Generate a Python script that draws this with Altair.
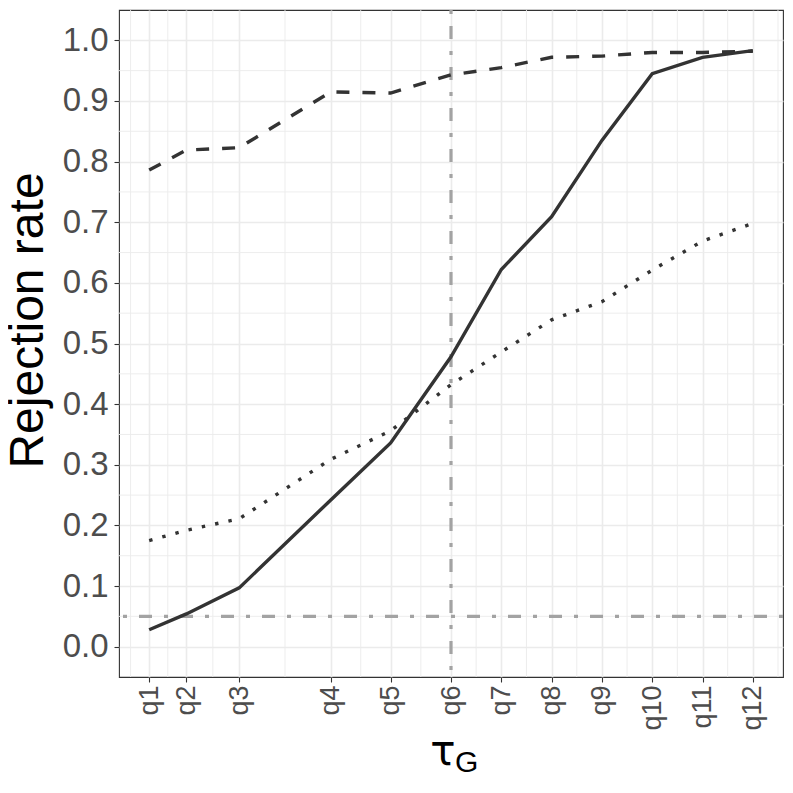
import altair as alt
import pandas as pd

# ---- data ----
labels = ["q1", "q2", "q3", "q4", "q5", "q6", "q7", "q8", "q9", "q10", "q11", "q12"]
xpos = [0, 0.74, 1.79, 3.61, 4.8, 6, 7, 8, 9, 10, 11, 12]
solid = [0.028, 0.054, 0.097, 0.242, 0.336, 0.478, 0.622, 0.709, 0.835, 0.945, 0.972, 0.983]
dashed = [0.786, 0.819, 0.823, 0.915, 0.913, 0.943, 0.955, 0.972, 0.974, 0.980, 0.980, 0.982]
dotted = [0.175, 0.192, 0.211, 0.309, 0.356, 0.432, 0.486, 0.539, 0.569, 0.621, 0.669, 0.698]
yticks = [round(0.1 * i, 1) for i in range(11)]
hline_y = 0.05
vline_x = 6  # q6

# minor grid positions (midpoints between major breaks)
xminor = [xpos[0] - (xpos[1] - xpos[0]) / 2] + \
         [(a + b) / 2 for a, b in zip(xpos[:-1], xpos[1:])] + \
         [xpos[-1] + (xpos[-1] - xpos[-2]) / 2]
yminor = [round(0.05 + 0.1 * i, 2) for i in range(10)]

XDOM = [-0.6, 12.6]
YDOM = [-0.05, 1.05]
W, H = 664, 667

labels_js = "[" + ",".join("'%s'" % l for l in labels) + "]"
xs_js = "[" + ",".join(str(v) for v in xpos) + "]"

xscale = alt.Scale(domain=XDOM, nice=False, zero=False)
yscale = alt.Scale(domain=YDOM, nice=False, zero=False)

xaxis = alt.Axis(values=xpos, labelExpr=f"{labels_js}[indexof({xs_js}, datum.value)]",
                 labelAngle=-90, labelAlign="right", labelBaseline="middle",
                 labelFontSize=27, labelColor="#4d4d4d", labelFont="Liberation Sans",
                 labelPadding=3, tickSize=5, tickColor="#333333", tickWidth=1.1,
                 domain=False, grid=True, gridColor="#ebebeb", gridWidth=1.6,
                 title=None)
yaxis = alt.Axis(values=yticks, format=".1f",
                 labelFontSize=33, labelColor="#4d4d4d", labelFont="Liberation Sans",
                 labelPadding=6, tickSize=5, tickColor="#333333", tickWidth=1.1,
                 domain=False, grid=True, gridColor="#ebebeb", gridWidth=1.6,
                 title="Rejection rate", titleFontSize=48, titleFont="Liberation Sans",
                 titleFontWeight="normal", titleColor="#000000",
                 titleAngle=-90, titleX=-77, titleY=310, titleAlign="center",
                 titleBaseline="alphabetic")

minor_x = alt.Chart(pd.DataFrame({"x": xminor})).mark_rule(color="#ebebeb", strokeWidth=0.9).encode(
    x=alt.X("x:Q", scale=xscale, axis=xaxis))
minor_y = alt.Chart(pd.DataFrame({"y": yminor})).mark_rule(color="#ebebeb", strokeWidth=0.9).encode(
    y=alt.Y("y:Q", scale=yscale, axis=yaxis))

hline = alt.Chart(pd.DataFrame({"y": [hline_y]})).mark_rule(
    color="#a3a3a3", strokeWidth=3.2, strokeDash=[4, 12, 13, 12]).encode(
    y=alt.Y("y:Q", scale=yscale))
vline = alt.Chart(pd.DataFrame({"x": [vline_x]})).mark_rule(
    color="#a3a3a3", strokeWidth=3.2, strokeDash=[4, 12, 13, 12]).encode(
    x=alt.X("x:Q", scale=xscale))

lines = []
for vals, dash in [(solid, None), (dashed, [13, 13]), (dotted, [3.4, 10.2])]:
    df = pd.DataFrame({"x": xpos, "y": vals})
    kw = dict(color="#333333", strokeWidth=3.4, strokeCap="butt", clip=True)
    if dash:
        kw["strokeDash"] = dash
    lines.append(alt.Chart(df).mark_line(**kw).encode(
        x=alt.X("x:Q", scale=xscale), y=alt.Y("y:Q", scale=yscale)))

tau = alt.Chart(pd.DataFrame({"t": ["τ"]})).mark_text(
    font="DejaVu Sans", fontSize=42, color="#000000", align="center", baseline="alphabetic"
).encode(text="t:N", x=alt.value(324), y=alt.value(755))
sub = alt.Chart(pd.DataFrame({"t": ["G"]})).mark_text(
    font="Liberation Sans", fontSize=30, color="#000000", align="left", baseline="alphabetic"
).encode(text="t:N", x=alt.value(336), y=alt.value(762))

chart = alt.layer(minor_x, minor_y, hline, vline, *lines, tau, sub).properties(
    width=W, height=H,
    background="white",
    padding={"left": 111, "top": 2, "right": 2, "bottom": 100},
    autosize=alt.AutoSizeParams(type="none"),
).configure_view(stroke="#333333", strokeWidth=1.1)

chart.save("out.html", embed_options={"renderer": "svg", "actions": False})
